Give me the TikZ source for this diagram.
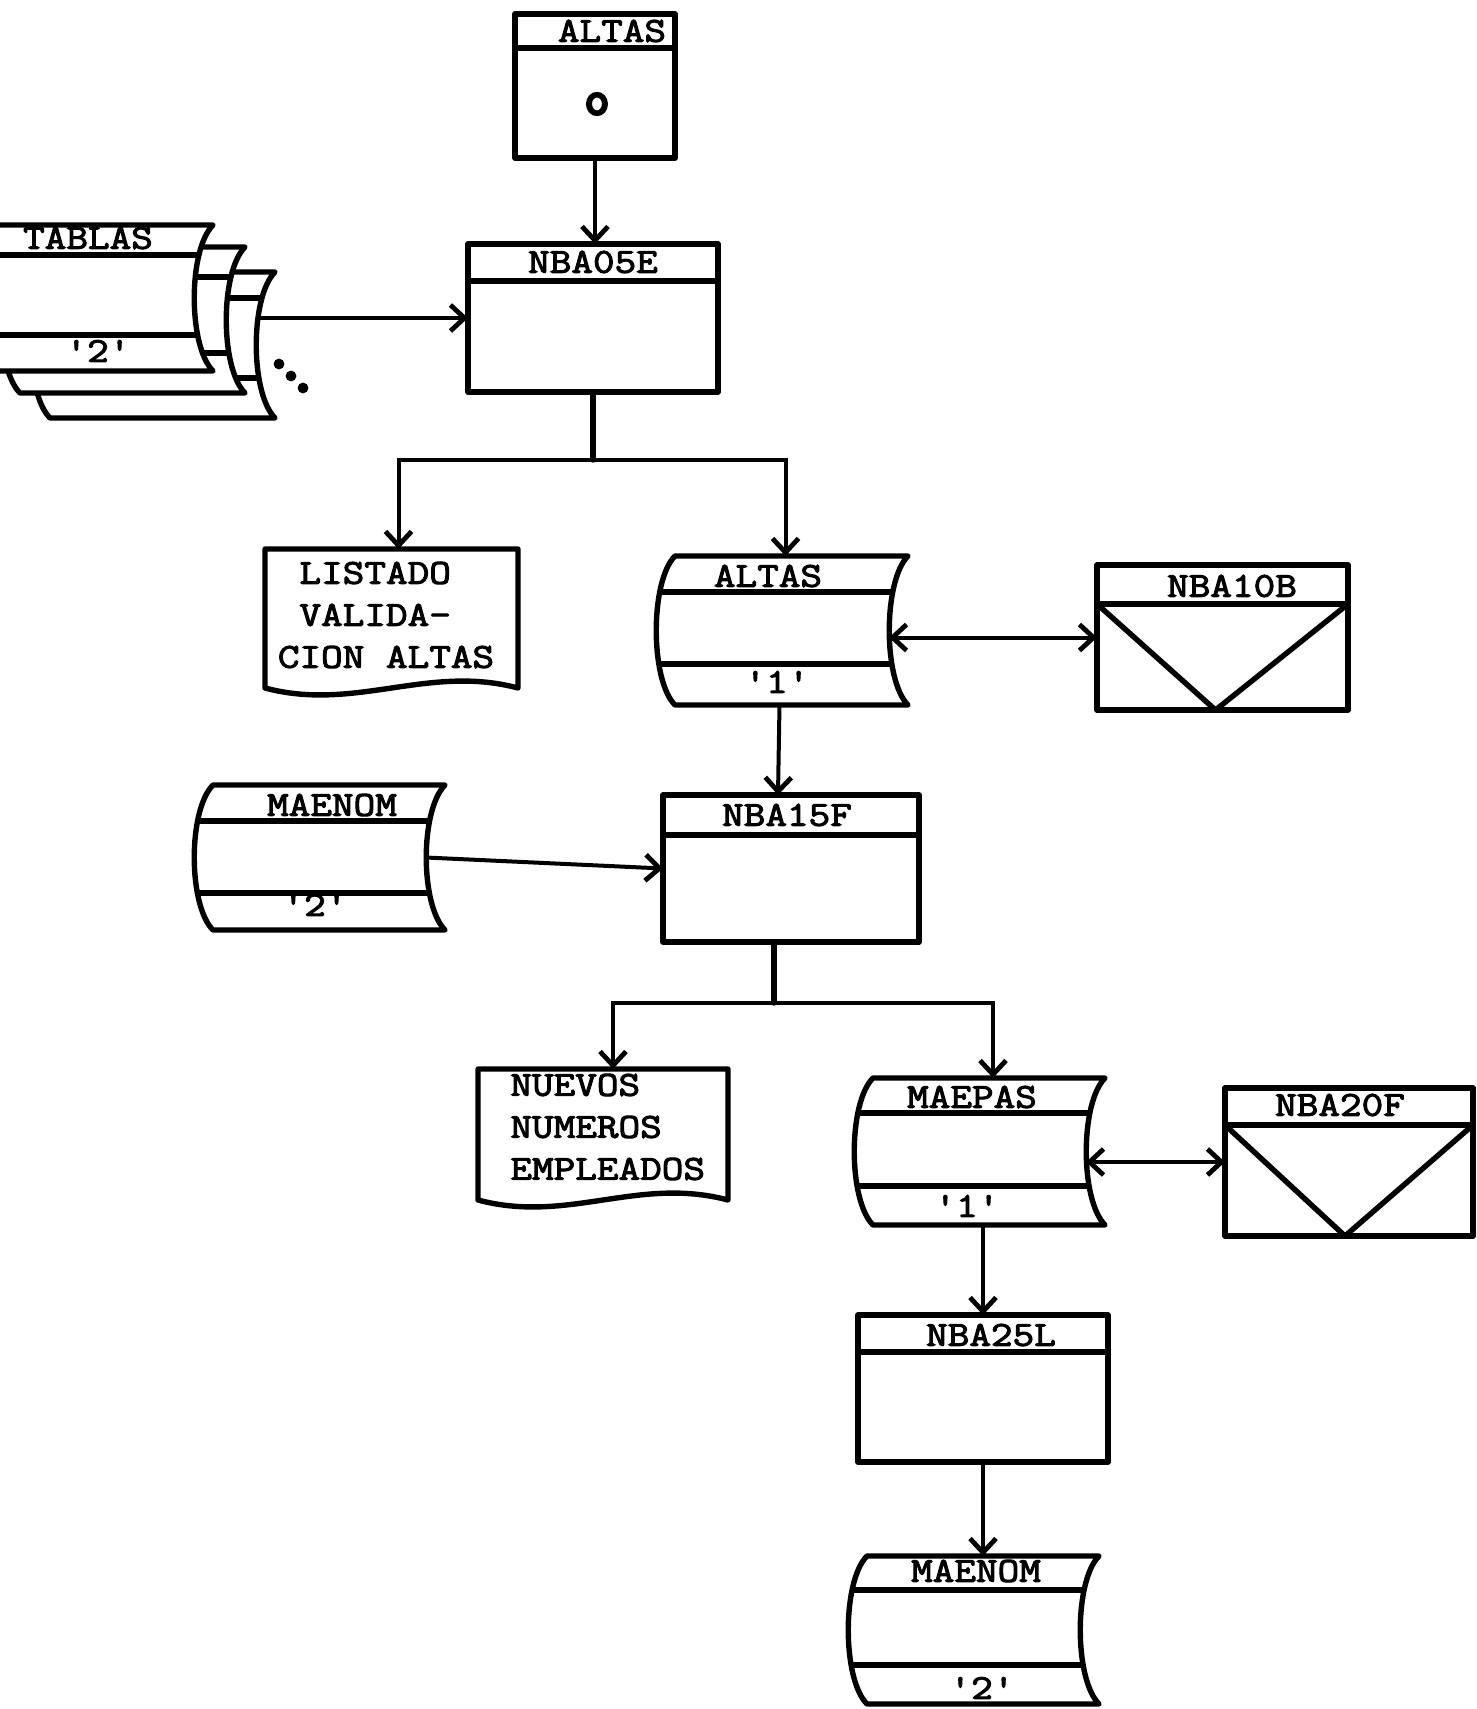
\documentclass[tikz,border=0pt]{standalone}
\usepackage{fontspec}
\newfontfamily\typewriter{Latin Modern Mono}[FakeStretch=1.2, FakeBold=3]
\newfontfamily\typeheavy{Latin Modern Mono}[FakeBold=6]
\usetikzlibrary{arrows.meta,calc,fit}

% outline of a tape/file symbol: straight top and bottom, both sides bowed to the left
\newcommand\tapeoutline[4]{(#1,#2) -- (#1+#3,#2) .. controls +(-25,25) and +(-25,-25) .. (#1+#3,#2+#4) -- (#1,#2+#4) .. controls +(-25,-25) and +(-25,25) .. (#1,#2) -- cycle}

% file symbol: name, left, top, width, height, header depth, footer depth
\newcommand\tapesym[7]{%
  \node[holder, fit={(#2,#3) (#2+#4,#3+#5)}] (#1) {};
  \path[fill=white] \tapeoutline{#2}{#3}{#4}{#5};
  \begin{scope}
    \clip \tapeoutline{#2}{#3}{#4}{#5};
    \draw[ink] (#2-40,#3+#6) -- (#2+#4+10,#3+#6);
    \draw[ink] (#2-40,#3+#7) -- (#2+#4+10,#3+#7);
  \end{scope}
  \draw[ink] \tapeoutline{#2}{#3}{#4}{#5};
  \coordinate (#1R) at ($(#1.east)+(-19,0)$);
}

\tikzset{
  holder/.style={inner sep=0pt, outer sep=0pt},
  ink/.style={line width=2.7pt, line join=round, line cap=round},
  flow/.style={line width=2pt, -{Straight Barb[length=7pt,width=13pt,line width=2.4pt]}},
  twoway/.style={line width=2pt, {Straight Barb[length=7pt,width=13pt,line width=2.4pt]}-{Straight Barb[length=7pt,width=13pt,line width=2.4pt]}},
  typed/.style={font=\typewriter\fontsize{17.5}{21}\selectfont, inner sep=0pt},
  procbox/.style={holder, draw, ink},
}

\begin{document}
\begin{tikzpicture}[x=0.5pt,y=-0.5pt]
\useasboundingbox (0,0) rectangle (1477,1709);
\fill[white] (0,0) rectangle (1477,1709);

% ---- input ALTAS
\node[procbox, fit={(515,14) (675,158)}] (altas0) {};
\draw[ink] ($(altas0.north west)+(0,34)$) -- ($(altas0.north east)+(0,34)$);
\node[typed] (t-altas0) at (612,31) {ALTAS};
\node[inner sep=0pt, font=\typeheavy\fontsize{24}{24}\selectfont] (o-altas0) at (597,104) {o};

% ---- program NBA05E
\node[procbox, fit={(468,244) (718,392)}] (nba05e) {};
\draw[ink] ($(nba05e.north west)+(0,37)$) -- ($(nba05e.north east)+(0,37)$);
\node[typed] (t-nba05e) at (593,262) {NBA05E};

% ---- stacked TABLAS files
\tapesym{tab3}{50}{272}{225}{146}{26}{106}
\tapesym{tab2}{20}{247}{225}{146}{30}{106}
\tapesym{tab1}{-12}{225}{225}{146}{30}{110}
\node[typed] (t-tab1) at (88,238) {TABLAS};
\node[typed] (b-tab1) at (98,351) {'2'};
\fill (279,364) circle (2.7pt);
\fill (291,376) circle (2.7pt);
\fill (303,388) circle (2.7pt);

% ---- listing LISTADO VALIDACION ALTAS
\node[holder, fit={(265,549) (518,688)}] (listado) {};
\draw[ink] (listado.south west) -- (listado.north west) -- (listado.north east) -- (listado.south east)
  .. controls +(-90,-24) and +(90,24) .. (listado.south west) -- cycle;
\node[typed, align=left] (x-listado) at (386,615) {\phantom{X}LISTADO\\\phantom{X}VALIDA-\\CION ALTAS};

% ---- file ALTAS '1'
\tapesym{altas1}{675}{556}{233}{149}{36}{108}
\node[typed] (t-altas1) at (768,576) {ALTAS};
\node[typed] (b-altas1) at (777,682) {'1'};

% ---- program NBA10B
\node[procbox, fit={(1097,565) (1348,710)}] (nba10b) {};
\draw[ink] ($(nba10b.north west)+(0,39)$) -- ($(nba10b.north east)+(0,39)$);
\draw[ink] ($(nba10b.north west)+(0,39)$) -- ($(nba10b.south)+(-7,0)$) -- ($(nba10b.north east)+(0,39)$);
\node[typed] (t-nba10b) at (1232,586) {NBA10B};

% ---- program NBA15F
\node[procbox, fit={(663,795) (919,942)}] (nba15f) {};
\draw[ink] ($(nba15f.north west)+(0,40)$) -- ($(nba15f.north east)+(0,40)$);
\node[typed] (t-nba15f) at (787,815) {NBA15F};

% ---- file MAENOM '2'
\tapesym{maenom1}{213}{785}{232}{145}{36}{108}
\node[typed] (t-maenom1) at (332,805) {MAENOM};
\node[typed] (b-maenom1) at (315,905) {'2'};

% ---- listing NUEVOS NUMEROS EMPLEADOS
\node[holder, fit={(478,1069) (728,1200)}] (nuevos) {};
\draw[ink] (nuevos.south west) -- (nuevos.north west) -- (nuevos.north east) -- (nuevos.south east)
  .. controls +(-90,-24) and +(90,24) .. (nuevos.south west) -- cycle;
\node[typed, align=left, anchor=west] (x-nuevos) at (510,1127) {NUEVOS\\NUMEROS\\EMPLEADOS};

% ---- file MAEPAS '1'
\tapesym{maepas}{873}{1078}{232}{147}{35}{108}
\node[typed] (t-maepas) at (972,1097) {MAEPAS};
\node[typed] (b-maepas) at (967,1206) {'1'};

% ---- program NBA20F
\node[procbox, fit={(1225,1088) (1473,1236)}] (nba20f) {};
\draw[ink] ($(nba20f.north west)+(0,37)$) -- ($(nba20f.north east)+(0,37)$);
\draw[ink] ($(nba20f.north west)+(0,37)$) -- ($(nba20f.south)+(-4,0)$) -- ($(nba20f.north east)+(0,37)$);
\node[typed] (t-nba20f) at (1340,1105) {NBA20F};

% ---- program NBA25L
\node[procbox, fit={(858,1315) (1108,1462)}] (nba25l) {};
\draw[ink] ($(nba25l.north west)+(0,37)$) -- ($(nba25l.north east)+(0,37)$);
\node[typed] (t-nba25l) at (991,1335) {NBA25L};

% ---- file MAENOM '2' (output)
\tapesym{maenom2}{867}{1556}{232}{148}{34}{109}
\node[typed] (t-maenom2) at (976,1571) {MAENOM};
\node[typed] (b-maenom2) at (982,1688) {'2'};

% ---- connectors
\draw[flow] (altas0.south) -- (altas0.south |- nba05e.north);
\draw[flow] ($(tab3.east |- nba05e.west)+(-17,0)$) -- (nba05e.west);

\coordinate (j1) at (593,460);
\draw[ink] (nba05e.south) -- (j1);
\draw[flow] (j1) -| ($(listado.north)+(7,0)$);
\draw[flow] (j1) -| ($(altas1.north)+(-6,0)$);

\draw[twoway] (altas1R |- nba10b.west) -- (nba10b.west);
\draw[flow] ($(altas1.south)+(-12,0)$) -- ($(nba15f.north)+(-13,0)$);
\draw[flow] (maenom1R) -- (nba15f.west);

\coordinate (j2) at (774,1003);
\draw[ink] (j2 |- nba15f.south) -- (j2);
\draw[flow] (j2) -| ($(nuevos.north)+(10,0)$);
\draw[flow] (j2) -| ($(maepas.north)+(4,0)$);

\draw[twoway] (maepasR |- nba20f.west) -- (nba20f.west);
\draw[flow] (nba25l.north |- maepas.south) -- (nba25l.north);
\draw[flow] (nba25l.south) -- (maenom2.north);
\end{tikzpicture}
\end{document}
